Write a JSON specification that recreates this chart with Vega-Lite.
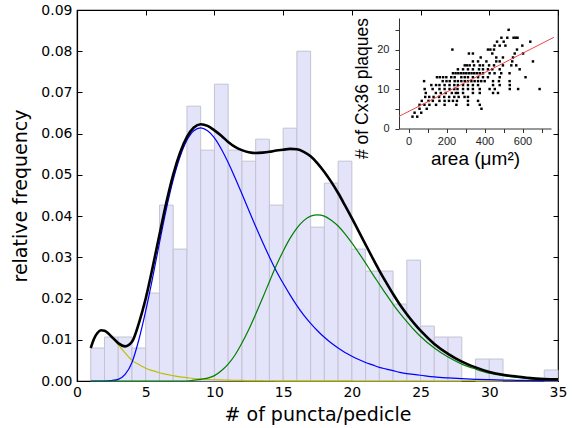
{
  "$schema": "https://vega.github.io/schema/vega-lite/v6.json",
  "autosize": {"type": "none"},
  "padding": {"left": 77, "top": 10, "right": 14, "bottom": 47},
  "width": 481,
  "height": 371,
  "background": "white",
  "view": {"stroke": "black", "strokeWidth": 1.2},
  "datasets": {
    "hist": [
      {"b0": 1, "b1": 2, "freq": 0.0080}, {"b0": 2, "b1": 3, "freq": 0.01067}, {"b0": 3, "b1": 4, "freq": 0.01067},
      {"b0": 4, "b1": 5, "freq": 0.0080}, {"b0": 5, "b1": 6, "freq": 0.02133}, {"b0": 6, "b1": 7, "freq": 0.04267},
      {"b0": 7, "b1": 8, "freq": 0.032}, {"b0": 8, "b1": 9, "freq": 0.06667}, {"b0": 9, "b1": 10, "freq": 0.056},
      {"b0": 10, "b1": 11, "freq": 0.072}, {"b0": 11, "b1": 12, "freq": 0.056}, {"b0": 12, "b1": 13, "freq": 0.05333},
      {"b0": 13, "b1": 14, "freq": 0.05867}, {"b0": 14, "b1": 15, "freq": 0.04267}, {"b0": 15, "b1": 16, "freq": 0.06133},
      {"b0": 16, "b1": 17, "freq": 0.08}, {"b0": 17, "b1": 18, "freq": 0.03733}, {"b0": 18, "b1": 19, "freq": 0.048},
      {"b0": 19, "b1": 20, "freq": 0.05333}, {"b0": 20, "b1": 21, "freq": 0.032}, {"b0": 21, "b1": 22, "freq": 0.02667},
      {"b0": 22, "b1": 23, "freq": 0.02667}, {"b0": 23, "b1": 24, "freq": 0.01867}, {"b0": 24, "b1": 25, "freq": 0.02933},
      {"b0": 25, "b1": 26, "freq": 0.01333}, {"b0": 26, "b1": 27, "freq": 0.01067}, {"b0": 27, "b1": 28, "freq": 0.01067},
      {"b0": 29, "b1": 30, "freq": 0.00533}, {"b0": 30, "b1": 31, "freq": 0.00533}, {"b0": 34, "b1": 35, "freq": 0.00267}
    ],
    "curves": [
      {"x": 1, "yellow": 0.0080, "blue": 0, "green": 0, "total": 0.0080},
      {"x": 1.25, "yellow": 0.0103, "blue": 0, "green": 0, "total": 0.0103},
      {"x": 1.5, "yellow": 0.0117, "blue": 0, "green": 0, "total": 0.0117},
      {"x": 1.75, "yellow": 0.0123, "blue": 0, "green": 0, "total": 0.0123},
      {"x": 2, "yellow": 0.0122, "blue": 0, "green": 0, "total": 0.0122},
      {"x": 2.5, "yellow": 0.0107, "blue": 0.0001, "green": 0, "total": 0.0108},
      {"x": 3, "yellow": 0.0088, "blue": 0.0004, "green": 0, "total": 0.0092},
      {"x": 3.5, "yellow": 0.0068, "blue": 0.0016, "green": 0, "total": 0.0084},
      {"x": 4, "yellow": 0.0050, "blue": 0.0045, "green": 0, "total": 0.0095},
      {"x": 4.5, "yellow": 0.0040, "blue": 0.0100, "green": 0, "total": 0.0140},
      {"x": 5, "yellow": 0.0031, "blue": 0.0170, "green": 0, "total": 0.0200},
      {"x": 5.5, "yellow": 0.0025, "blue": 0.0250, "green": 0, "total": 0.0275},
      {"x": 6, "yellow": 0.0020, "blue": 0.0335, "green": 0, "total": 0.0355},
      {"x": 6.5, "yellow": 0.0016, "blue": 0.0417, "green": 0, "total": 0.0433},
      {"x": 7, "yellow": 0.0013, "blue": 0.0488, "green": 0, "total": 0.0501},
      {"x": 7.5, "yellow": 0.0010, "blue": 0.0544, "green": 0, "total": 0.0554},
      {"x": 8, "yellow": 0.0008, "blue": 0.0584, "green": 0, "total": 0.0592},
      {"x": 8.5, "yellow": 0.0006, "blue": 0.0607, "green": 0.0002, "total": 0.0615},
      {"x": 9, "yellow": 0.0005, "blue": 0.0614, "green": 0.0004, "total": 0.0623},
      {"x": 9.5, "yellow": 0.0004, "blue": 0.0607, "green": 0.0007, "total": 0.0619},
      {"x": 10, "yellow": 0.0003, "blue": 0.0590, "green": 0.0013, "total": 0.0608},
      {"x": 10.5, "yellow": 0.00025, "blue": 0.0563, "green": 0.0025, "total": 0.0595},
      {"x": 11, "yellow": 0.0002, "blue": 0.0530, "green": 0.0041, "total": 0.0580},
      {"x": 11.5, "yellow": 0.00016, "blue": 0.0493, "green": 0.0063, "total": 0.0568},
      {"x": 12, "yellow": 0.00013, "blue": 0.0454, "green": 0.0092, "total": 0.0560},
      {"x": 12.5, "yellow": 0.0001, "blue": 0.0414, "green": 0.0125, "total": 0.0555},
      {"x": 13, "yellow": 0.00009, "blue": 0.0375, "green": 0.0162, "total": 0.0553},
      {"x": 13.5, "yellow": 0.00007, "blue": 0.0337, "green": 0.0201, "total": 0.0554},
      {"x": 14, "yellow": 0.00006, "blue": 0.0301, "green": 0.0241, "total": 0.0556},
      {"x": 14.5, "yellow": 0.00005, "blue": 0.0267, "green": 0.0280, "total": 0.0559},
      {"x": 15, "yellow": 0.00004, "blue": 0.0237, "green": 0.0315, "total": 0.0561},
      {"x": 15.5, "yellow": 0.000035, "blue": 0.0209, "green": 0.0346, "total": 0.0563},
      {"x": 16, "yellow": 0.00003, "blue": 0.0183, "green": 0.0371, "total": 0.0562},
      {"x": 16.5, "yellow": 0.000025, "blue": 0.0160, "green": 0.0389, "total": 0.0556},
      {"x": 17, "yellow": 0.00002, "blue": 0.0140, "green": 0.0400, "total": 0.0545},
      {"x": 17.5, "yellow": 0.00002, "blue": 0.0122, "green": 0.0403, "total": 0.0528},
      {"x": 18, "yellow": 0.00002, "blue": 0.0106, "green": 0.0400, "total": 0.0507},
      {"x": 18.5, "yellow": 0.000015, "blue": 0.0092, "green": 0.0390, "total": 0.0483},
      {"x": 19, "yellow": 0.000015, "blue": 0.0080, "green": 0.0376, "total": 0.0456},
      {"x": 19.5, "yellow": 0.00001, "blue": 0.0069, "green": 0.0357, "total": 0.0426},
      {"x": 20, "yellow": 0.00001, "blue": 0.0060, "green": 0.0335, "total": 0.0395},
      {"x": 20.5, "yellow": 0, "blue": 0.0052, "green": 0.0311, "total": 0.0363},
      {"x": 21, "yellow": 0, "blue": 0.0045, "green": 0.0286, "total": 0.0331},
      {"x": 21.5, "yellow": 0, "blue": 0.0039, "green": 0.0260, "total": 0.0299},
      {"x": 22, "yellow": 0, "blue": 0.0033, "green": 0.0235, "total": 0.0268},
      {"x": 22.5, "yellow": 0, "blue": 0.0029, "green": 0.0210, "total": 0.0239},
      {"x": 23, "yellow": 0, "blue": 0.0025, "green": 0.0186, "total": 0.0211},
      {"x": 23.5, "yellow": 0, "blue": 0.0021, "green": 0.0164, "total": 0.0185},
      {"x": 24, "yellow": 0, "blue": 0.0018, "green": 0.0144, "total": 0.0162},
      {"x": 24.5, "yellow": 0, "blue": 0.0016, "green": 0.0125, "total": 0.0141},
      {"x": 25, "yellow": 0, "blue": 0.0014, "green": 0.0108, "total": 0.0122},
      {"x": 26, "yellow": 0, "blue": 0.0010, "green": 0.0080, "total": 0.0090},
      {"x": 27, "yellow": 0, "blue": 0.00075, "green": 0.0058, "total": 0.0066},
      {"x": 28, "yellow": 0, "blue": 0.00056, "green": 0.0041, "total": 0.0047},
      {"x": 29, "yellow": 0, "blue": 0.00041, "green": 0.0029, "total": 0.0033},
      {"x": 30, "yellow": 0, "blue": 0.00031, "green": 0.0019, "total": 0.0022},
      {"x": 31, "yellow": 0, "blue": 0.00023, "green": 0.0013, "total": 0.0015},
      {"x": 32, "yellow": 0, "blue": 0.00017, "green": 0.0009, "total": 0.0011},
      {"x": 33, "yellow": 0, "blue": 0.00013, "green": 0.0006, "total": 0.0007},
      {"x": 34, "yellow": 0, "blue": 0.0001, "green": 0.0004, "total": 0.0005},
      {"x": 35, "yellow": 0, "blue": 0.00007, "green": 0.0003, "total": 0.0004}
    ],
    "scatter": [
      {"a": 21, "n": 3}, {"a": 46, "n": 3},
      {"a": 32, "n": 4}, {"a": 67, "n": 4},
      {"a": 58, "n": 5}, {"a": 96, "n": 5}, {"a": 384, "n": 5},
      {"a": 58, "n": 6}, {"a": 84, "n": 6}, {"a": 110, "n": 6}, {"a": 145, "n": 6}, {"a": 190, "n": 6}, {"a": 252, "n": 6}, {"a": 313, "n": 6}, {"a": 375, "n": 6},
      {"a": 70, "n": 7}, {"a": 105, "n": 7}, {"a": 128, "n": 7}, {"a": 163, "n": 7}, {"a": 190, "n": 7}, {"a": 213, "n": 7}, {"a": 234, "n": 7}, {"a": 255, "n": 7}, {"a": 313, "n": 7}, {"a": 366, "n": 7},
      {"a": 88, "n": 8}, {"a": 109, "n": 8}, {"a": 132, "n": 8}, {"a": 161, "n": 8}, {"a": 188, "n": 8}, {"a": 214, "n": 8}, {"a": 241, "n": 8}, {"a": 264, "n": 8}, {"a": 295, "n": 8}, {"a": 313, "n": 8},
      {"a": 91, "n": 9}, {"a": 144, "n": 9}, {"a": 170, "n": 9}, {"a": 196, "n": 9}, {"a": 228, "n": 9}, {"a": 249, "n": 9}, {"a": 260, "n": 9}, {"a": 287, "n": 9}, {"a": 339, "n": 9}, {"a": 375, "n": 9}, {"a": 445, "n": 9}, {"a": 471, "n": 9},
      {"a": 85, "n": 10}, {"a": 127, "n": 10}, {"a": 163, "n": 10}, {"a": 190, "n": 10}, {"a": 216, "n": 10}, {"a": 241, "n": 10}, {"a": 258, "n": 10}, {"a": 287, "n": 10}, {"a": 313, "n": 10}, {"a": 339, "n": 10}, {"a": 375, "n": 10}, {"a": 427, "n": 10}, {"a": 454, "n": 10}, {"a": 533, "n": 10}, {"a": 577, "n": 10}, {"a": 690, "n": 10},
      {"a": 120, "n": 11}, {"a": 145, "n": 11}, {"a": 163, "n": 11}, {"a": 190, "n": 11}, {"a": 216, "n": 11}, {"a": 241, "n": 11}, {"a": 260, "n": 11}, {"a": 287, "n": 11}, {"a": 313, "n": 11}, {"a": 339, "n": 11}, {"a": 366, "n": 11}, {"a": 445, "n": 11}, {"a": 480, "n": 11}, {"a": 533, "n": 11},
      {"a": 82, "n": 12}, {"a": 180, "n": 12}, {"a": 200, "n": 12}, {"a": 217, "n": 12}, {"a": 243, "n": 12}, {"a": 260, "n": 12}, {"a": 278, "n": 12}, {"a": 296, "n": 12}, {"a": 313, "n": 12}, {"a": 331, "n": 12}, {"a": 348, "n": 12}, {"a": 366, "n": 12}, {"a": 383, "n": 12}, {"a": 401, "n": 12}, {"a": 445, "n": 12}, {"a": 476, "n": 12}, {"a": 532, "n": 12},
      {"a": 150, "n": 13}, {"a": 165, "n": 13}, {"a": 182, "n": 13}, {"a": 199, "n": 13}, {"a": 225, "n": 13}, {"a": 243, "n": 13}, {"a": 278, "n": 13}, {"a": 296, "n": 13}, {"a": 313, "n": 13}, {"a": 339, "n": 13}, {"a": 366, "n": 13}, {"a": 392, "n": 13}, {"a": 418, "n": 13}, {"a": 480, "n": 13}, {"a": 616, "n": 13},
      {"a": 234, "n": 14}, {"a": 248, "n": 14}, {"a": 262, "n": 14}, {"a": 276, "n": 14}, {"a": 290, "n": 14}, {"a": 304, "n": 14}, {"a": 318, "n": 14}, {"a": 332, "n": 14}, {"a": 346, "n": 14}, {"a": 360, "n": 14}, {"a": 375, "n": 14}, {"a": 392, "n": 14}, {"a": 427, "n": 14}, {"a": 453, "n": 14}, {"a": 488, "n": 14}, {"a": 532, "n": 14},
      {"a": 260, "n": 15}, {"a": 287, "n": 15}, {"a": 313, "n": 15}, {"a": 339, "n": 15}, {"a": 371, "n": 15}, {"a": 392, "n": 15}, {"a": 418, "n": 15}, {"a": 441, "n": 15}, {"a": 480, "n": 15}, {"a": 585, "n": 15},
      {"a": 296, "n": 16}, {"a": 308, "n": 16}, {"a": 322, "n": 16}, {"a": 345, "n": 16}, {"a": 375, "n": 16}, {"a": 392, "n": 16}, {"a": 424, "n": 16}, {"a": 450, "n": 16}, {"a": 497, "n": 16}, {"a": 541, "n": 16}, {"a": 567, "n": 16},
      {"a": 339, "n": 17}, {"a": 366, "n": 17}, {"a": 410, "n": 17}, {"a": 462, "n": 17}, {"a": 480, "n": 17}, {"a": 546, "n": 17}, {"a": 655, "n": 17},
      {"a": 380, "n": 18}, {"a": 462, "n": 18}, {"a": 497, "n": 18}, {"a": 550, "n": 18},
      {"a": 318, "n": 19}, {"a": 339, "n": 19}, {"a": 441, "n": 19}, {"a": 559, "n": 19}, {"a": 603, "n": 19},
      {"a": 231, "n": 20}, {"a": 418, "n": 20}, {"a": 431, "n": 20}, {"a": 450, "n": 20}, {"a": 571, "n": 20},
      {"a": 453, "n": 21}, {"a": 480, "n": 21}, {"a": 510, "n": 21}, {"a": 599, "n": 21},
      {"a": 466, "n": 22}, {"a": 501, "n": 22}, {"a": 641, "n": 22},
      {"a": 489, "n": 23}, {"a": 520, "n": 23}, {"a": 553, "n": 23}, {"a": 564, "n": 23}, {"a": 574, "n": 23},
      {"a": 527, "n": 25}
    ],
    "fit": [{"a": -50, "n": 3.07}, {"a": 765, "n": 23.1}]
  },
  "layer": [
    {
      "layer": [
        {
          "data": {"name": "hist"},
          "mark": {"type": "bar", "fill": "#e3e3f9", "stroke": "#c3c3d3", "strokeWidth": 1},
          "encoding": {
            "x": {"field": "b0", "type": "quantitative", "title": "# of puncta/pedicle",
              "scale": {"domain": [0, 35], "nice": false},
              "axis": {"values": [0, 5, 10, 15, 20, 25, 30, 35], "grid": false, "tickSize": -5, "tickColor": "black", "domainColor": "black", "domainWidth": 1.2,
                "labelFont": "DejaVu Sans", "labelFontSize": 14, "labelColor": "black", "labelPadding": 9, "labelFlush": false,
                "titleFont": "DejaVu Sans", "titleFontSize": 19, "titleFontWeight": "normal", "titleColor": "black", "titlePadding": 6}},
            "x2": {"field": "b1"},
            "y": {"field": "freq", "type": "quantitative", "title": "relative frequency",
              "scale": {"domain": [0, 0.09], "nice": false},
              "axis": {"values": [0, 0.01, 0.02, 0.03, 0.04, 0.05, 0.06, 0.07, 0.08, 0.09], "format": ".2f", "grid": false, "tickSize": -5, "tickColor": "black", "domainColor": "black", "domainWidth": 1.2,
                "labelFont": "DejaVu Sans", "labelFontSize": 14, "labelColor": "black", "labelPadding": 10, "labelFlush": false,
                "titleFont": "DejaVu Sans", "titleFontSize": 19, "titleFontWeight": "normal", "titleColor": "black", "titlePadding": 10}},
            "y2": {"datum": 0}
          }
        },
        {
          "data": {"name": "curves"},
          "mark": {"type": "line", "color": "#bfbf00", "strokeWidth": 1.2, "interpolate": "monotone"},
          "encoding": {"x": {"field": "x", "type": "quantitative", "title": "# of puncta/pedicle"}, "y": {"field": "yellow", "type": "quantitative", "title": "relative frequency"}}
        },
        {
          "data": {"name": "curves"},
          "mark": {"type": "line", "color": "#0000ff", "strokeWidth": 1.2, "interpolate": "monotone"},
          "encoding": {"x": {"field": "x", "type": "quantitative", "title": "# of puncta/pedicle"}, "y": {"field": "blue", "type": "quantitative", "title": "relative frequency"}}
        },
        {
          "data": {"name": "curves"},
          "mark": {"type": "line", "color": "#008000", "strokeWidth": 1.2, "interpolate": "monotone"},
          "encoding": {"x": {"field": "x", "type": "quantitative", "title": "# of puncta/pedicle"}, "y": {"field": "green", "type": "quantitative", "title": "relative frequency"}}
        },
        {
          "data": {"name": "curves"},
          "mark": {"type": "line", "color": "black", "strokeWidth": 2.6, "interpolate": "monotone"},
          "encoding": {"x": {"field": "x", "type": "quantitative", "title": "# of puncta/pedicle"}, "y": {"field": "total", "type": "quantitative", "title": "relative frequency"}}
        }
      ]
    },
    {
      "data": {"name": "hist"},
      "mark": {"type": "point", "opacity": 0},
      "encoding": {
        "x": {"field": "b0", "type": "quantitative", "scale": {"domain": [0, 35], "nice": false},
          "axis": {"orient": "top", "values": [0, 5, 10, 15, 20, 25, 30, 35], "labels": false, "domain": false, "grid": false, "tickSize": -5, "tickColor": "black", "title": null}},
        "y": {"field": "freq", "type": "quantitative", "scale": {"domain": [0, 0.09], "nice": false},
          "axis": {"orient": "right", "values": [0, 0.01, 0.02, 0.03, 0.04, 0.05, 0.06, 0.07, 0.08, 0.09], "labels": false, "domain": false, "grid": false, "tickSize": -5, "tickColor": "black", "title": null}}
      }
    },
    {
      "layer": [
        {
          "data": {"name": "scatter"},
          "mark": {"type": "square", "filled": true, "color": "black", "size": 6, "opacity": 1},
          "encoding": {
            "x": {"field": "a", "type": "quantitative", "title": "area (μm²)",
              "scale": {"domain": [-50, 750], "range": [322, 474], "nice": false, "zero": false},
              "axis": {"orient": "bottom", "offset": -252.5, "values": [0, 100, 200, 300, 400, 500, 600, 700],
                "labelExpr": "datum.value % 200 === 0 ? datum.label : ''", "grid": false, "tickSize": 4, "tickColor": "#333", "domainColor": "#333",
                "labelFont": "Liberation Sans", "labelFontSize": 11, "labelColor": "#222", "labelPadding": 3, "labelFlush": false,
                "titleFont": "Liberation Sans", "titleFontSize": 19, "titleFontWeight": "normal", "titleColor": "black", "titlePadding": 3}},
            "y": {"field": "n", "type": "quantitative", "title": "# of Cx36 plaques",
              "scale": {"domain": [0, 28], "range": [118.5, 8], "nice": false},
              "axis": {"orient": "left", "offset": -322, "values": [0, 5, 10, 15, 20, 25],
                "labelExpr": "datum.value % 10 === 0 ? datum.label : ''", "grid": false, "tickSize": 4, "tickColor": "#333", "domainColor": "#333",
                "labelFont": "Liberation Sans", "labelFontSize": 11, "labelColor": "#222", "labelPadding": 6, "labelFlush": false,
                "titleFont": "Liberation Sans", "titleFontSize": 17.5, "titleFontWeight": "normal", "titleColor": "black", "titlePadding": 5, "titleY": 78}}
          }
        },
        {
          "data": {"name": "fit"},
          "mark": {"type": "line", "color": "#f04545", "strokeWidth": 1, "clip": false},
          "encoding": {
            "x": {"field": "a", "type": "quantitative", "title": "area (μm²)"},
            "y": {"field": "n", "type": "quantitative", "title": "# of Cx36 plaques"}
          }
        }
      ]
    }
  ],
  "resolve": {"scale": {"x": "independent", "y": "independent"}, "axis": {"x": "independent", "y": "independent"}}
}
